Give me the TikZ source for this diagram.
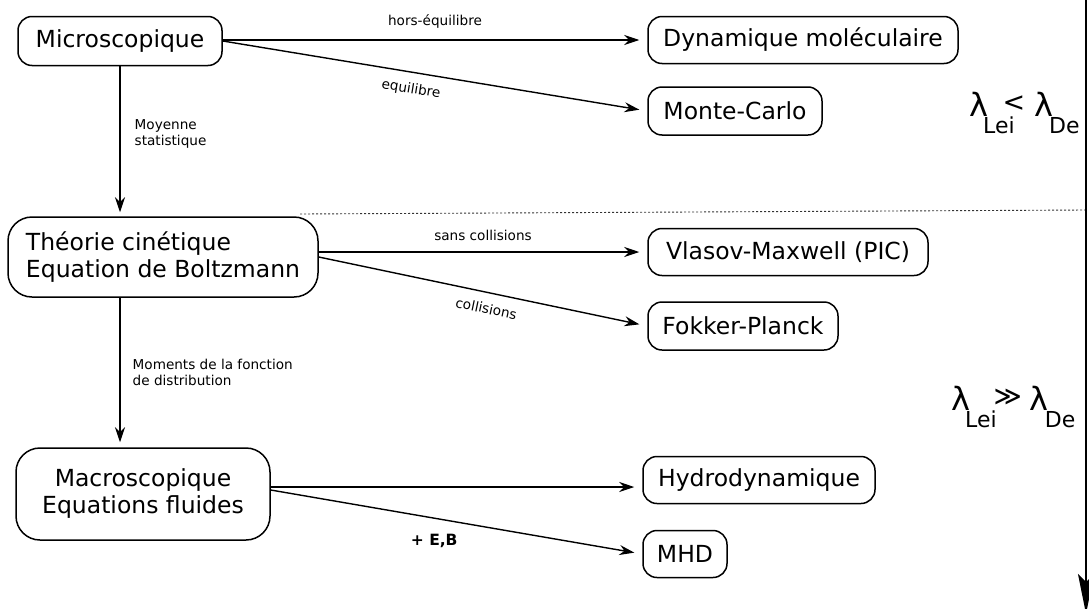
\documentclass[tikz,border=0pt]{standalone}
\usepackage{fontspec}
\setmainfont{DejaVu Sans}
\usetikzlibrary{arrows.meta}

\newcommand{\lamsub}[1]{\raisebox{-17pt}{\fontsize{22}{22}\selectfont #1}}
\newcommand{\lamrel}[1]{\raisebox{5pt}{\fontsize{27}{27}\selectfont #1}}

\begin{document}
\begin{tikzpicture}[x=1pt, y=-1pt,
  box/.style={draw, rounded corners=14pt, line width=1.5pt, inner sep=0pt,
    font=\fontsize{23.5}{27}\selectfont},
  bigbox/.style={box, rounded corners=24pt},
  lbl/.style={font=\fontsize{13.6}{16}\selectfont, inner sep=0pt},
  lam/.style={font=\fontsize{32}{32}\selectfont, inner sep=0pt, anchor=base west},
  flow/.style={line width=1.4pt, -{Stealth[length=15pt,width=10pt,inset=5pt]}, shorten >=8pt}]
  \useasboundingbox (0,0) rectangle (1089,608);

  % boxes
  \node[box, minimum width=204pt, minimum height=49pt] (micro) at (120,41) {Microscopique};
  \node[box, minimum width=310pt, minimum height=47pt] (dyn) at (803,40) {Dynamique moléculaire};
  \node[box, minimum width=174pt, minimum height=48pt] (monte) at (735,111) {Monte-Carlo};
  \node[bigbox, minimum width=310pt, minimum height=80pt, align=left] (theo) at (163,257)
    {Théorie cinétique\\Equation de Boltzmann};
  \node[box, minimum width=280pt, minimum height=47pt] (vlasov) at (788,252) {Vlasov-Maxwell (PIC)};
  \node[box, minimum width=190pt, minimum height=48pt] (fokker) at (743,326) {Fokker-Planck};
  \node[bigbox, minimum width=254pt, minimum height=92pt, align=center] (macro) at (143,494)
    {Macroscopique\\Equations fluides};
  \node[box, minimum width=232pt, minimum height=47pt] (hydro) at (759,480) {Hydrodynamique};
  \node[box, minimum width=84pt, minimum height=47pt] (mhd) at (685,554) {MHD};

  % connectors
  \draw[flow] (micro.east |- dyn.west) -- node[lbl, above=11pt] {hors-équilibre} (dyn.west);
  \draw[flow] (micro.east) -- node[lbl, sloped, below=10pt, pos=0.45] {equilibre} (monte.west);
  \draw[flow, shorten >=4pt] (micro.south) -- node[lbl, right=14pt, align=left, pos=0.45]
    {Moyenne\\statistique} (micro.south |- theo.north);
  \draw[flow] (theo.east |- vlasov.west) -- node[lbl, above=11pt] {sans collisions} (vlasov.west);
  \draw[flow] (theo.east) -- node[lbl, sloped, below=10pt, pos=0.52] {collisions} (fokker.west);
  \draw[flow, shorten >=5pt] (micro.south |- theo.south) -- node[lbl, right=12pt, align=left]
    {Moments de la fonction\\de distribution} (micro.south |- macro.north);
  \draw[flow] ([yshift=7pt]macro.east) -- ([yshift=7pt]macro.east -| hydro.west);
  \draw[flow] ([yshift=4pt]macro.east) -- node[lbl, below=15pt, pos=0.44, font=\fontsize{15.5}{18}\selectfont\bfseries]
    {+ E,B} (mhd.west);

  % regimes
  \coordinate (sepl) at (300,214);
  \coordinate (sepr) at (1086,210);
  \draw[black!80, line width=0.9pt, dash pattern=on 2pt off 2pt] (sepl) -- (sepr);
  \coordinate (axtop) at (1086,0);
  \coordinate (axbot) at (1086,614);
  \draw[line width=1.5pt, -{Stealth[length=40pt,width=16pt,inset=8pt]}] (axtop) -- (axbot);
  \node[lam] (lowden) at (969,116)
    {λ\kern-5pt\lamsub{Lei}\kern-12pt\lamrel{<}\kern9pt λ\kern-4pt\lamsub{De}};
  \node[lam] (highden) at (951,410)
    {λ\kern-5pt\lamsub{Lei}\kern-3pt\lamrel{≫}\kern8pt λ\kern-4pt\lamsub{De}};
\end{tikzpicture}
\end{document}
